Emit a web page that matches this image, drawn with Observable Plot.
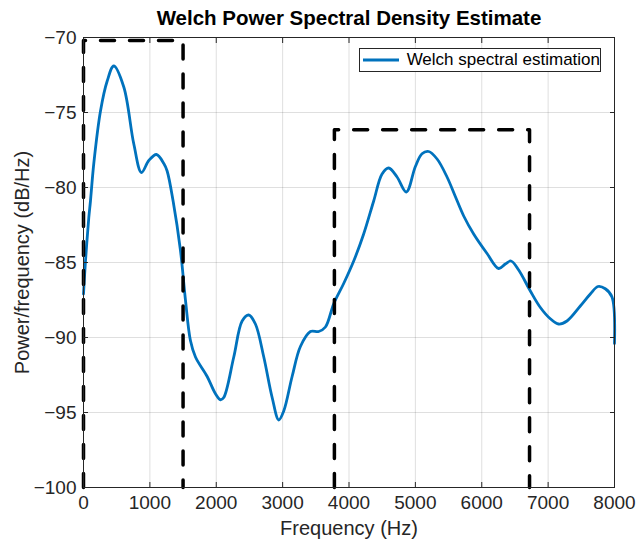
<!DOCTYPE html>
<html>
<head>
<meta charset="utf-8">
<script src="https://cdn.jsdelivr.net/npm/d3@7"></script>
<script src="https://cdn.jsdelivr.net/npm/@observablehq/plot@0.6"></script>
<style>
  html, body { margin: 0; padding: 0; background: #fff; }
  #wrap { position: relative; width: 636px; height: 543px; font-family: "Liberation Sans", Arial, sans-serif; }
  #legend { position: absolute; left: 359px; top: 48px; width: 242px; height: 24px; border: 1px solid #262626; background: #fff; display: flex; align-items: center; box-sizing: border-box; }
  #legend span { font-size: 17px; color: #000; margin-left: 4px; white-space: nowrap; }
</style>
</head>
<body>
<div id="wrap"></div>
<script>
const title = "Welch Power Spectral Density Estimate";
const xLabel = "Frequency (Hz)";
const yLabel = "Power/frequency (dB/Hz)";
const seriesName = "Welch spectral estimation";
const xTicks = [0, 1000, 2000, 3000, 4000, 5000, 6000, 7000, 8000];
const yTicks = [-100, -95, -90, -85, -80, -75, -70];

const freq = [0, 30, 80, 105, 155, 256, 357, 456, 607, 758, 873, 984, 1099, 1210, 1260, 1350, 1461, 1536, 1611, 1687, 1863, 1988, 2063, 2113, 2264, 2390, 2490, 2590, 2716, 2842, 2942, 3017, 3143, 3268, 3419, 3544, 3645, 3770, 3920, 4071, 4221, 4372, 4498, 4598, 4724, 4864, 5000, 5100, 5200, 5327, 5477, 5602, 5728, 5878, 6080, 6255, 6355, 6441, 6556, 6732, 6883, 7033, 7158, 7284, 7485, 7636, 7751, 7861, 7962, 8000];
const power = [-87.1, -84.9, -82.0, -80.9, -78.4, -74.9, -72.9, -71.9, -73.3, -77.1, -79.0, -78.2, -77.8, -78.4, -78.9, -80.9, -84.2, -87.5, -90.2, -91.3, -92.6, -93.75, -94.15, -94.0, -91.3, -88.9, -88.5, -89.1, -91.3, -94.0, -95.5, -94.9, -92.6, -90.6, -89.6, -89.6, -89.3, -87.75, -86.4, -84.9, -83.1, -80.9, -79.1, -78.7, -79.3, -80.3, -78.6, -77.75, -77.6, -78.1, -79.3, -80.6, -81.9, -83.1, -84.4, -85.4, -85.1, -84.9, -85.5, -86.9, -88.0, -88.75, -89.1, -88.9, -87.9, -87.1, -86.6, -86.75, -87.3, -90.4];

// highlighted bands: [fStart, fEnd, topLevel]
const bandStart = [0, 3780];
const bandEnd = [1500, 6720];
const bandTop = [-70.2, -76.15];

const data = freq.map((f, i) => ({f, v: power[i]}));
const boxes = bandStart.flatMap((s, i) => [
  {b: i, f: s, v: -100},
  {b: i, f: s, v: bandTop[i]},
  {b: i, f: bandEnd[i], v: bandTop[i]},
  {b: i, f: bandEnd[i], v: -100}
]);

const axisColor = "#262626";
const chart = Plot.plot({
  width: 636,
  height: 543,
  marginLeft: 83,
  marginRight: 22,
  marginTop: 37,
  marginBottom: 56,
  style: {fontFamily: "'Liberation Sans', Arial, sans-serif", background: "#fff", color: axisColor},
  x: {domain: [0, 8000], ticks: xTicks},
  y: {domain: [-100, -70], ticks: yTicks},
  marks: [
    Plot.gridX(xTicks, {stroke: axisColor, strokeOpacity: 0.15}),
    Plot.gridY(yTicks, {stroke: axisColor, strokeOpacity: 0.15}),
    Plot.line(data, {x: "f", y: "v", stroke: "#0072BD", strokeWidth: 2.8, curve: "catmull-rom"}),
    Plot.line(boxes, {x: "f", y: "v", z: "b", stroke: "#000", strokeWidth: 3.5, strokeDasharray: "14,15"}),
    Plot.frame({stroke: axisColor, strokeWidth: 1}),
    Plot.axisX(xTicks, {anchor: "bottom", tickSize: -5, tickPadding: 13, fontSize: 19, tickFormat: d3.format("d"), label: null, stroke: axisColor, fill: axisColor}),
    Plot.axisX(xTicks, {anchor: "top", tickSize: -5, text: null, label: null, stroke: axisColor}),
    Plot.axisY(yTicks, {anchor: "left", tickSize: -5, tickPadding: 12, fontSize: 19, label: null, stroke: axisColor, fill: axisColor}),
    Plot.axisY(yTicks, {anchor: "right", tickSize: -5, text: null, label: null, stroke: axisColor}),
    Plot.text([xLabel], {frameAnchor: "bottom", dy: 41, lineAnchor: "middle", fontSize: 20, fill: axisColor}),
    Plot.text([yLabel], {frameAnchor: "left", dx: -61, rotate: -90, textAnchor: "middle", lineAnchor: "middle", fontSize: 20, fill: axisColor}),
    Plot.text([title], {frameAnchor: "top", dy: -19, lineAnchor: "middle", fontSize: 20.5, fontWeight: "bold", fill: "#000"})
  ]
});
const wrap = document.getElementById("wrap");
wrap.appendChild(chart);
const legend = document.createElement("div");
legend.id = "legend";
legend.innerHTML = `<svg width="40" height="10" style="margin-left:3px"><line x1="0" x2="36" y1="5" y2="5" stroke="#0072BD" stroke-width="2.8"/></svg><span>${seriesName}</span>`;
wrap.appendChild(legend);
</script>
</body>
</html>
